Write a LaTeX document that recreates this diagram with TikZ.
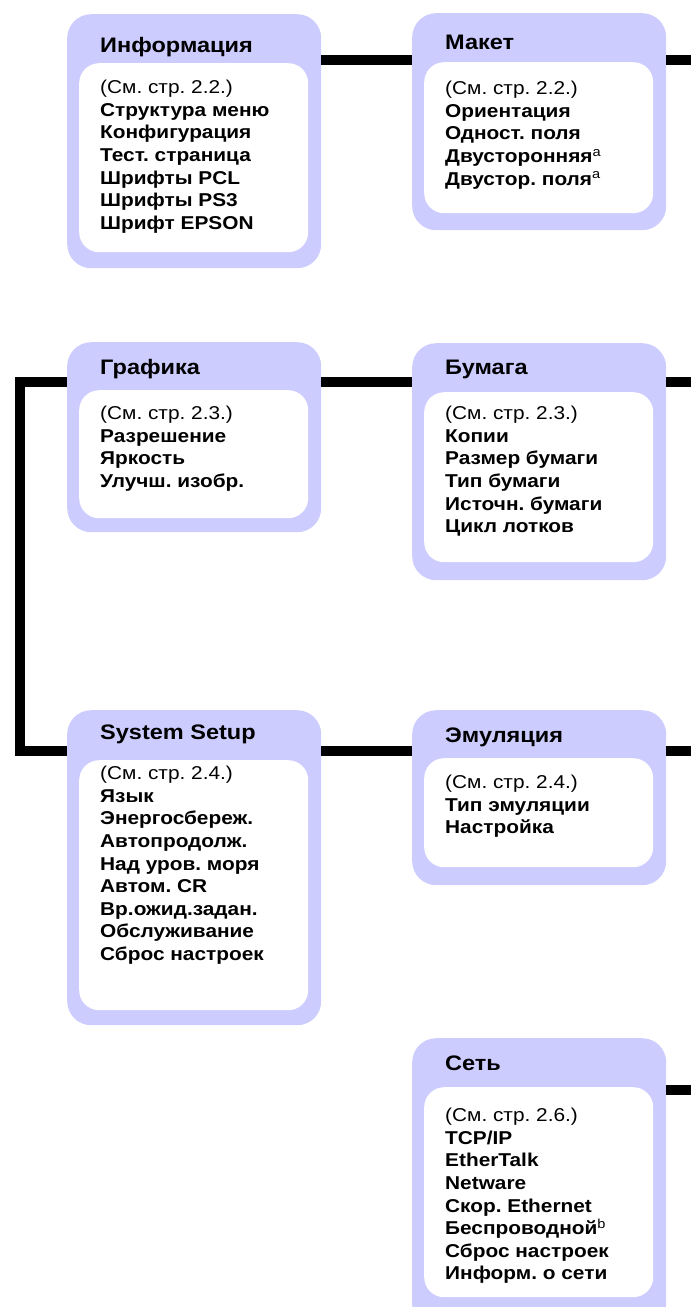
\documentclass[tikz,border=0pt]{standalone}
\usepackage{fontspec}
\setmainfont[FakeStretch=1.12]{Liberation Sans}
\usetikzlibrary{positioning}
\frenchspacing
\definecolor{menufill}{RGB}{204,204,255}
\newcommand{\ttlfont}{\fontsize{21}{24}\selectfont\bfseries}
\newcommand{\itmfont}{\fontsize{18.6}{22.6}\selectfont\bfseries}
\newcommand{\seepage}[1]{{\mdseries (См. стр. #1)}}
\newcommand{\fnmark}[1]{\textsuperscript{\mdseries #1}}
\tikzset{
  menu/.style={fill=menufill, rounded corners=24pt, inner sep=0pt, minimum width=254pt, anchor=north west},
  items/.style={fill=white, rounded corners=20pt, inner sep=0pt, minimum width=229pt, anchor=north west},
  ttl/.style={font=\ttlfont, inner sep=0pt, anchor=base west},
  txt/.style={font=\itmfont, inner sep=0pt, anchor=north west, align=left},
  link/.style={line width=10pt}
}

\begin{document}
\begin{tikzpicture}[x=1pt,y=-1pt, line join=miter, line cap=butt]
        \useasboundingbox (0,0) rectangle (691,1307);
        \clip (0,0) rectangle (691,1307);
        \coordinate (r1) at (0,60); \coordinate (r2) at (0,382);
        \coordinate (r3) at (0,751); \coordinate (r4) at (0,1090);
        \coordinate (spine) at (20,0); \coordinate (rim) at (691,0);
        % left column
        \node[menu, minimum height=254pt] (info) at (67,14) {};
        \node[items, minimum height=189pt] (info-in) at (79,63) {};
        \node[ttl] (info-ttl) at (100,52) {Информация};
        \node[txt] (info-txt) at (100,80) {\seepage{2.2.}\\Структура меню\\Конфигурация\\Тест. страница\\Шрифты PCL\\Шрифты PS3\\Шрифт EPSON};
        \node[menu, minimum height=190pt] (graf) at (67,342) {};
        \node[items, minimum height=128pt] (graf-in) at (79,390) {};
        \node[ttl] (graf-ttl) at (100,374) {Графика};
        \node[txt] (graf-txt) at (100,406) {\seepage{2.3.}\\Разрешение\\Яркость\\Улучш. изобр.};
        \node[menu, minimum height=315pt] (sys) at (67,710) {};
        \node[items, minimum height=250pt] (sys-in) at (79,760) {};
        \node[ttl] (sys-ttl) at (100,739) {System Setup};
        \node[txt] (sys-txt) at (100,766) {\seepage{2.4.}\\Язык\\Энергосбереж.\\Автопродолж.\\Над уров. моря\\Автом. CR\\Вр.ожид.задан.\\Обслуживание\\Сброс настроек};
        % right column
        \node[menu, minimum height=217pt] (maket) at (412,13) {};
        \node[items, minimum height=151pt] (maket-in) at (424,62) {};
        \node[ttl] (maket-ttl) at (445,49) {Макет};
        \node[txt] (maket-txt) at (445,81) {\seepage{2.2.}\\Ориентация\\Одност. поля\\Двусторонняя\fnmark{a}\\Двустор. поля\fnmark{a}};
        \node[menu, minimum height=237pt] (bum) at (412,343) {};
        \node[items, minimum height=170pt] (bum-in) at (424,392) {};
        \node[ttl] (bum-ttl) at (445,374) {Бумага};
        \node[txt] (bum-txt) at (445,406) {\seepage{2.3.}\\Копии\\Размер бумаги\\Тип бумаги\\Источн. бумаги\\Цикл лотков};
        \node[menu, minimum height=175pt] (emu) at (412,710) {};
        \node[items, minimum height=109pt] (emu-in) at (424,758) {};
        \node[ttl] (emu-ttl) at (445,742) {Эмуляция};
        \node[txt] (emu-txt) at (445,775) {\seepage{2.4.}\\Тип эмуляции\\Настройка};
        \node[menu, minimum height=290pt] (net) at (412,1038) {};
        \node[items, minimum height=210pt] (net-in) at (424,1087) {};
        \node[ttl] (net-ttl) at (445,1070) {Сеть};
        \node[txt] (net-txt) at (445,1108) {\seepage{2.6.}\\TCP/IP\\EtherTalk\\Netware\\Скор. Ethernet\\Беспроводной\fnmark{b}\\Сброс настроек\\Информ. о сети};
        % links
        \draw[link] (info.east |- r1) -- (maket.west |- r1);
        \draw[link] (maket.east |- r1) -- (rim |- r1);
        \draw[link] (graf.east |- r2) -- (bum.west |- r2);
        \draw[link] (bum.east |- r2) -- (rim |- r2);
        \draw[link] (graf.west |- r2) -| (spine |- r3) -- (sys.west |- r3);
        \draw[link] (sys.east |- r3) -- (emu.west |- r3);
        \draw[link] (emu.east |- r3) -- (rim |- r3);
        \draw[link] (net.east |- r4) -- (rim |- r4);
\end{tikzpicture}
\end{document}
